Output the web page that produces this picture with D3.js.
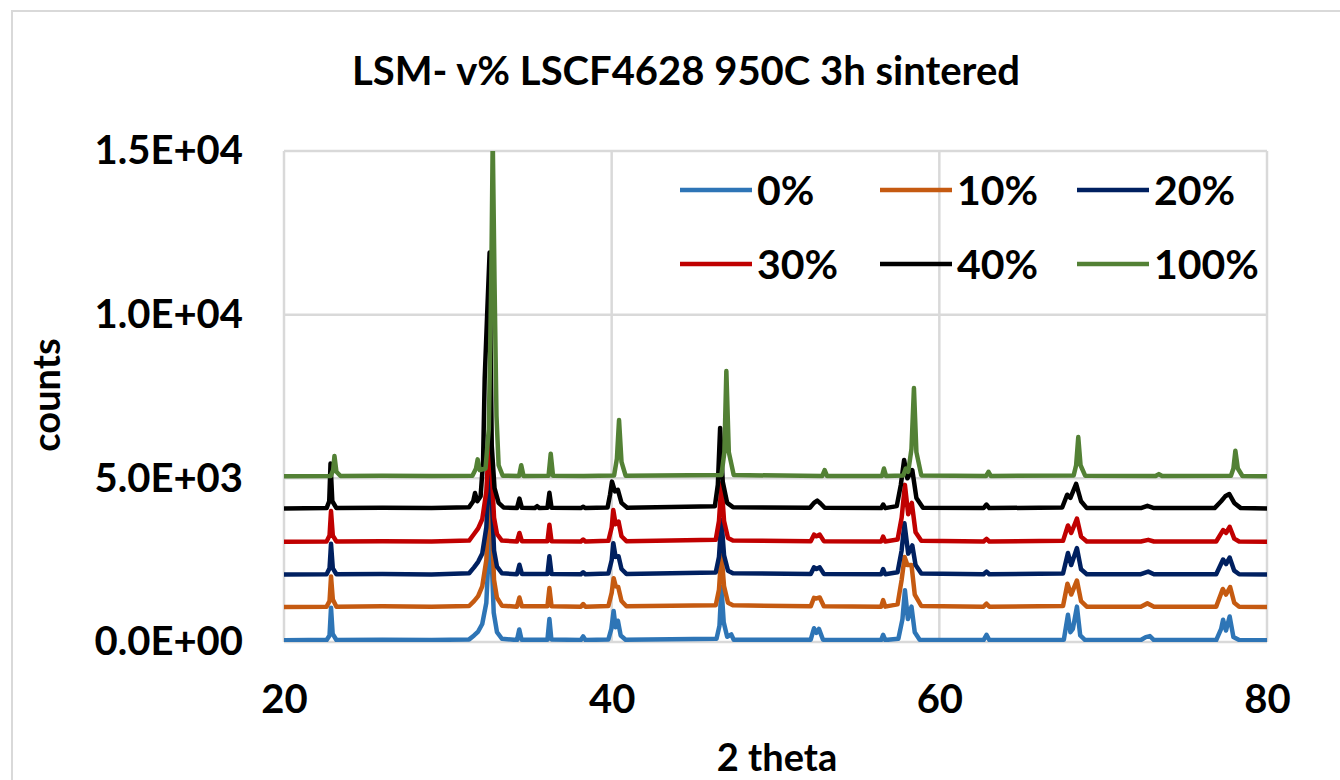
<!DOCTYPE html>
<html>
<head>
<meta charset="utf-8">
<script src="https://cdn.jsdelivr.net/npm/d3@7"></script>
<style>
body{margin:0;background:#fff;}
text{font-family:Lato,"Open Sans",sans-serif;font-weight:bold;fill:#000;}
</style>
</head>
<body>
<svg id="chart" width="1340" height="780"></svg>
<script>
var chartTitle = "LSM- v% LSCF4628 950C 3h sintered"
var seriesNames = ["0%","10%","20%","30%","40%","100%"]
var seriesColors = ["#2e75b6","#c55a11","#002060","#c00000","#000000","#538135"]
var offsets = [0,1000,2000,3000,4000,5000]
var xTicks = [20,40,60,80]
var yTicks = [0,5000,10000,15000]
var yTickLabels = ["0.0E+00","5.0E+03","1.0E+04","1.5E+04"]

// [2 theta, counts] (before the vertical offset)
var s0 = [[20,50],[21.5,60],[22.6,60],[22.78,200],[22.87,1050],[22.97,250],[23.2,60],[26,70],[29,60],[31.3,80],[31.6,200],[31.85,320],[32.1,550],[32.35,1200],[32.5,2800],[32.58,4400],[32.68,2500],[32.8,900],[33.0,300],[33.3,100],[34.22,60],[34.36,380],[34.5,70],[36.08,70],[36.2,700],[36.32,80],[38.12,60],[38.26,170],[38.4,60],[39.8,80],[39.98,400],[40.12,950],[40.24,450],[40.38,650],[40.55,200],[40.85,70],[46.4,100],[46.58,500],[46.7,1680],[46.84,600],[47.05,160],[47.3,230],[47.45,70],[52.15,70],[52.35,420],[52.5,280],[52.65,400],[52.9,70],[56.45,60],[56.57,220],[56.7,60],[57.5,100],[57.75,700],[57.9,1580],[58.08,700],[58.3,1080],[58.5,300],[58.8,70],[62.7,60],[62.88,220],[63.05,60],[67.6,70],[67.85,830],[68.0,300],[68.15,400],[68.4,1080],[68.6,200],[68.9,60],[72.3,60],[72.6,150],[72.85,180],[73.1,60],[76.9,60],[77.2,400],[77.32,680],[77.5,350],[77.72,780],[77.95,150],[78.3,60],[80,50]]
var s10 = [[20,70],[22.6,80],[22.78,250],[22.87,1000],[22.98,300],[23.2,80],[26,90],[29,80],[31.3,100],[31.6,250],[31.85,400],[32.1,700],[32.35,1500],[32.5,3000],[32.58,4000],[32.7,2400],[32.82,900],[33.0,350],[33.3,110],[34.22,80],[34.37,360],[34.52,90],[36.08,90],[36.2,650],[36.33,90],[38.12,80],[38.26,160],[38.4,80],[39.8,100],[40.0,500],[40.12,950],[40.25,700],[40.4,680],[40.6,250],[40.9,90],[46.35,120],[46.55,600],[46.7,1720],[46.86,700],[47.1,200],[47.4,120],[52.15,90],[52.35,350],[52.5,330],[52.7,360],[52.95,90],[56.45,80],[56.57,280],[56.7,80],[57.45,150],[57.7,900],[57.88,1600],[58.05,1350],[58.3,1350],[58.5,450],[58.9,100],[62.7,80],[62.88,170],[63.05,80],[67.55,100],[67.82,780],[68.05,450],[68.4,880],[68.65,250],[69.0,80],[72.3,80],[72.7,180],[73.1,80],[76.9,80],[77.3,620],[77.5,450],[77.75,680],[78.0,200],[78.3,80],[80,70]]
var s20 = [[20,60],[22.6,70],[22.78,250],[22.87,1000],[22.98,250],[23.2,70],[26,80],[29,60],[31.3,100],[31.6,280],[31.85,450],[32.1,700],[32.35,1500],[32.5,3000],[32.58,3600],[32.7,2200],[32.82,800],[33.0,300],[33.3,100],[34.22,70],[34.37,360],[34.52,80],[36.08,80],[36.2,620],[36.33,80],[38.12,70],[38.26,130],[38.4,70],[39.8,90],[40.0,500],[40.1,1020],[40.24,600],[40.42,620],[40.6,230],[40.9,80],[46.35,120],[46.55,600],[46.7,1730],[46.86,650],[47.1,180],[47.4,100],[52.15,80],[52.35,280],[52.5,230],[52.7,280],[52.95,80],[56.45,70],[56.57,230],[56.7,70],[57.45,130],[57.7,800],[57.87,1630],[58.1,700],[58.35,950],[58.55,350],[58.9,90],[62.7,70],[62.88,150],[63.05,70],[67.55,90],[67.85,720],[68.05,350],[68.4,870],[68.65,220],[69.0,70],[72.3,70],[72.75,150],[73.1,70],[76.9,70],[77.32,520],[77.5,380],[77.72,580],[78.0,180],[78.3,70],[80,60]]
var s30 = [[20,60],[22.6,70],[22.78,250],[22.87,1000],[22.98,250],[23.2,70],[26,80],[29,70],[31.3,100],[31.6,300],[31.85,470],[32.1,750],[32.35,1600],[32.5,3000],[32.58,3200],[32.7,2000],[32.82,800],[33.0,300],[33.3,100],[34.22,70],[34.37,330],[34.52,80],[36.08,80],[36.2,580],[36.33,80],[38.12,70],[38.26,130],[38.4,70],[39.8,90],[40.0,500],[40.1,1030],[40.24,600],[40.42,680],[40.6,230],[40.9,80],[46.35,120],[46.55,700],[46.7,1850],[46.86,700],[47.1,180],[47.4,100],[52.15,80],[52.35,280],[52.5,230],[52.7,280],[52.95,80],[56.45,70],[56.57,220],[56.7,70],[57.45,130],[57.7,800],[57.9,1800],[58.1,900],[58.32,1250],[58.55,350],[58.9,90],[62.7,70],[62.88,150],[63.05,70],[67.55,90],[67.85,560],[68.05,330],[68.4,770],[68.65,220],[69.0,70],[72.3,70],[72.75,120],[73.1,70],[76.9,70],[77.32,420],[77.5,330],[77.72,520],[78.0,160],[78.3,70],[80,60]]
var s40 = [[20,80],[22.6,90],[22.76,300],[22.84,1450],[22.95,300],[23.2,90],[26,100],[29,90],[31.3,120],[31.55,300],[31.66,550],[31.8,300],[32.0,450],[32.15,1500],[32.25,4050],[32.4,6000],[32.55,7900],[32.68,2000],[32.85,700],[33.1,250],[33.4,110],[34.22,90],[34.37,380],[34.52,100],[35.3,90],[35.45,150],[35.6,90],[36.08,100],[36.2,560],[36.33,100],[38.12,90],[38.26,130],[38.4,90],[39.75,110],[39.9,500],[40.02,900],[40.2,600],[40.38,650],[40.6,250],[40.95,100],[46.3,150],[46.48,800],[46.62,2540],[46.78,900],[47.05,250],[47.4,120],[52.1,100],[52.35,250],[52.55,320],[52.75,230],[53.0,100],[56.45,90],[56.57,200],[56.7,90],[57.4,150],[57.65,800],[57.85,1560],[58.05,1000],[58.35,1250],[58.6,400],[59.0,100],[62.7,90],[62.88,200],[63.05,90],[67.5,110],[67.8,500],[68.0,400],[68.35,830],[68.65,300],[69.0,90],[72.3,90],[72.7,160],[73.1,90],[76.8,90],[77.2,300],[77.45,450],[77.7,520],[78.0,250],[78.4,90],[80,80]]
var s100 = [[20,60],[22.85,70],[23.0,250],[23.08,680],[23.2,200],[23.45,70],[26,80],[29,70],[31.5,80],[31.72,300],[31.82,580],[31.95,250],[32.3,300],[32.5,1500],[32.65,6000],[32.74,10400],[32.85,6000],[32.97,1900],[33.1,400],[33.35,80],[34.35,70],[34.48,400],[34.62,70],[36.15,80],[36.28,750],[36.42,80],[38.3,70],[40.15,90],[40.32,600],[40.45,1780],[40.6,500],[40.85,80],[46.7,100],[46.88,800],[47.0,3280],[47.15,800],[47.45,100],[52.85,70],[53.0,250],[53.15,70],[56.5,70],[56.62,300],[56.75,70],[57.8,90],[57.95,300],[58.1,200],[58.3,900],[58.45,2760],[58.6,800],[58.9,90],[62.85,70],[63.0,200],[63.15,70],[68.2,90],[68.35,400],[68.48,1260],[68.62,400],[68.9,80],[73.2,70],[73.4,130],[73.6,70],[77.8,80],[77.95,300],[78.07,840],[78.22,300],[78.5,70],[80,60]]
var seriesData = [s0,s10,s20,s30,s40,s100]

var svg = d3.select("#chart")

// outer chart frame
svg.append("rect")
    .attr("x",12).attr("y",11)
    .attr("width",1340).attr("height",800)
    .attr("fill","none").attr("stroke","#d9d9d9").attr("stroke-width",2)

var x = d3.scaleLinear().domain([20,80]).range([284,1267])
var y = d3.scaleLinear().domain([0,15000]).range([642,151])

// gridlines
svg.append("g").selectAll("line").data(yTicks).enter().append("line")
    .attr("x1",x(20)).attr("x2",x(80))
    .attr("y1",function(d){return y(d)}).attr("y2",function(d){return y(d)})
    .attr("stroke","#d9d9d9").attr("stroke-width",2.5)
svg.append("g").selectAll("line").data(xTicks).enter().append("line")
    .attr("y1",y(0)).attr("y2",y(15000))
    .attr("x1",function(d){return x(d)}).attr("x2",function(d){return x(d)})
    .attr("stroke","#d9d9d9").attr("stroke-width",2.5)

svg.append("clipPath").attr("id","plotclip")
    .append("rect").attr("x",x(20)).attr("y",y(15000))
    .attr("width",x(80)-x(20)).attr("height",y(0)-y(15000))

var line = d3.line()
    .x(function(d){return x(d[0])})
    .y(function(d){return y(d[1])})

svg.append("g").attr("clip-path","url(#plotclip)")
    .selectAll("path").data(seriesData).enter().append("path")
    .attr("d",function(d,i){
        return line(d.map(function(p){return [p[0],p[1]+offsets[i]]}))
    })
    .attr("fill","none")
    .attr("stroke",function(d,i){return seriesColors[i]})
    .attr("stroke-width",4.5)
    .attr("stroke-linejoin","round")

// axes
var yAxis = d3.axisLeft(y).tickValues(yTicks)
    .tickFormat(function(d,i){return yTickLabels[i]})
    .tickSize(0).tickPadding(41)
svg.append("g")
    .attr("transform","translate("+x(20)+",0)")
    .call(yAxis)
    .call(function(g){g.select(".domain").remove()})
    .selectAll("text").style("font-size","40px").style("font-family","Lato").style("font-weight","bold")

var xAxis = d3.axisBottom(x).tickValues(xTicks)
    .tickFormat(d3.format("d"))
    .tickSize(0).tickPadding(43)
svg.append("g")
    .attr("transform","translate(0,"+y(0)+")")
    .call(xAxis)
    .call(function(g){g.select(".domain").remove()})
    .selectAll("text").style("font-size","40px").style("font-family","Lato").style("font-weight","bold")

// titles
svg.append("text")
    .attr("x",686).attr("y",85)
    .attr("text-anchor","middle")
    .style("font-size","40px")
    .text(chartTitle)

svg.append("text")
    .attr("x",777).attr("y",771)
    .attr("text-anchor","middle")
    .style("font-size","38px")
    .text("2 theta")

svg.append("text")
    .attr("transform","translate(60,395) rotate(-90)")
    .attr("text-anchor","middle")
    .style("font-size","38px")
    .text("counts")

// legend, 3 per row
var legendCols = [680,880,1077]
var legendRows = [190,264]
var legend = svg.append("g").selectAll("g").data(seriesNames).enter().append("g")
    .attr("transform",function(d,i){
        return "translate("+legendCols[i%3]+","+legendRows[Math.floor(i/3)]+")"
    })
legend.append("line")
    .attr("x1",0).attr("x2",72).attr("y1",0).attr("y2",0)
    .attr("stroke",function(d,i){return seriesColors[i]})
    .attr("stroke-width",4.5)
legend.append("text")
    .attr("x",77).attr("y",15)
    .style("font-size","41px")
    .text(function(d){return d})
</script>
</body>
</html>
